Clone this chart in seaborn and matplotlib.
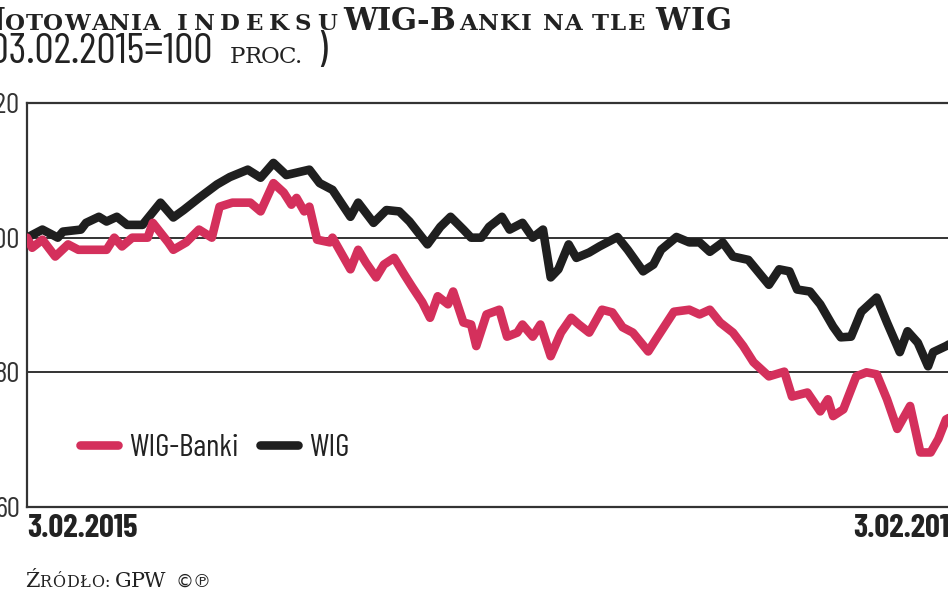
import matplotlib
matplotlib.use("Agg")
import matplotlib.pyplot as plt
from matplotlib.lines import Line2D
import seaborn as sns
import pandas as pd

# dni od 3.02.2015 i wartosci (3.02.2015 = 100)
start = pd.Timestamp("2015-02-03")
end = pd.Timestamp("2016-02-03")

wig_days = [0, 6, 12, 14, 21, 23, 28, 31, 35, 39, 45, 52, 57, 61, 67, 74, 79, 86, 91, 96,
            101, 110, 114, 119, 126, 129, 135, 140, 145, 149, 156, 161, 165, 170, 173, 177, 180, 185, 188, 193,
            197, 201, 204, 207, 211, 214, 219, 223, 230, 234, 240, 244, 247, 253, 258, 262, 266, 271, 275, 281,
            289, 293, 297, 300, 305, 309, 314, 317, 321, 325, 331, 335, 340, 343, 347, 351, 353, 358, 363]
wig_vals = [100.0, 101.2, 100.0, 100.9, 101.2, 102.2, 103.1, 102.4, 103.1, 101.9,
            101.9, 105.2, 103.0, 104.1, 105.9, 107.9, 109.0, 110.1, 108.9, 111.1,
            109.3, 110.1, 108.1, 107.1, 103.1, 105.2, 102.2, 104.1, 103.9, 102.4,
            99.0, 101.6, 103.1, 101.2, 100.0, 100.0, 101.6, 103.1, 101.2, 102.2,
            100.0, 101.2, 94.1, 95.3, 99.0, 97.0, 97.8, 98.7, 100.1, 98.2,
            95.0, 96.0, 98.2, 100.1, 99.3, 99.3, 97.9, 99.3, 97.2, 96.7,
            93.0, 95.3, 95.0, 92.3, 92.0, 90.1, 86.8, 85.2, 85.3, 89.0,
            91.1, 87.4, 83.0, 86.1, 84.4, 80.9, 83.0, 83.9, 85.0]

banki_days = [0, 2, 6, 11, 16, 20, 31, 34, 37, 41, 47, 49, 55, 57, 62, 67, 72, 75, 80, 87,
              91, 96, 100, 103, 105, 108, 110, 113, 118, 119, 126, 129, 132, 136, 139, 143, 147, 150, 154, 157,
              160, 164, 166, 170, 173, 175, 179, 184, 187, 191, 193, 197, 200, 204, 208, 212, 215, 219, 224, 228,
              232, 236, 242, 245, 252, 258, 262, 266, 270, 275, 279, 283, 289, 295, 298, 304, 309, 312, 314, 318,
              323, 327, 331, 335, 339, 344, 348, 352, 355, 358, 363]
banki_vals = [100.0, 98.5, 99.7, 97.2, 99.0, 98.2, 98.2, 100.0, 98.7, 100.0,
              100.0, 102.2, 99.3, 98.2, 99.3, 101.2, 100.0, 104.6, 105.2, 105.2,
              103.9, 108.1, 106.7, 104.9, 105.9, 103.9, 104.6, 99.7, 99.3, 100.0,
              95.3, 98.2, 96.3, 94.1, 96.0, 97.0, 94.5, 92.7, 90.4, 88.1,
              91.3, 90.1, 92.0, 87.4, 87.1, 83.9, 88.6, 89.3, 85.3, 85.9,
              87.1, 85.3, 87.1, 82.4, 85.9, 88.1, 87.1, 85.9, 89.3, 88.9,
              86.7, 85.9, 83.1, 84.9, 89.0, 89.3, 88.6, 89.3, 87.4, 85.9,
              83.9, 81.5, 79.4, 80.1, 76.4, 77.0, 74.2, 76.0, 73.5, 74.5,
              79.4, 80.0, 79.7, 76.0, 71.6, 75.0, 68.1, 68.1, 70.1, 73.0, 74.0]

series_names = ["WIG", "WIG-Banki"]
y_ticks = [60, 80, 100, 120]
grid_levels = [80, 100]
x_labels = ["3.02.2015", "3.02.2016"]

RED = "#d4305c"
BLACK = "#1f1f1f"
INK = "#222222"
W, H = 948, 593

df = pd.concat([
    pd.DataFrame({"Data": start + pd.to_timedelta(wig_days, unit="D"), "Wartosc": wig_vals, "Indeks": "WIG"}),
    pd.DataFrame({"Data": start + pd.to_timedelta(banki_days, unit="D"), "Wartosc": banki_vals, "Indeks": "WIG-Banki"}),
])

narrow = ["Barlow Condensed", "DejaVu Sans"]
serif = ["DejaVu Serif", "DejaVu Sans"]

sns.set_style("white")
plt.rcParams["font.family"] = narrow

fig = plt.figure(figsize=(W / 100, H / 100), dpi=100)
ax = fig.add_axes([27 / W, 1 - 507 / H, 937 / W, 404 / H])

sns.lineplot(data=df, x="Data", y="Wartosc", hue="Indeks", hue_order=series_names,
             palette={"WIG": BLACK, "WIG-Banki": RED}, linewidth=6.2,
             solid_capstyle="round", solid_joinstyle="round", legend=False, ax=ax, zorder=3)

for lvl in grid_levels:
    ax.axhline(lvl, color="#333333", lw=1.4, zorder=1)

ax.set_xlim(start, end)
ax.set_ylim(60, 120)
for side in ["left", "bottom", "top"]:
    ax.spines[side].set_color("#333333")
    ax.spines[side].set_linewidth(1.6)
ax.spines["right"].set_visible(False)

ax.set_yticks(y_ticks)
ax.set_yticklabels([str(v) for v in y_ticks])
ax.tick_params(axis="y", length=0, pad=5, labelsize=21, labelcolor="#333333")
ax.set_xticks([start, end])
ax.set_xticklabels(x_labels, fontweight="bold")
ax.tick_params(axis="x", length=0, pad=5, labelsize=23.5, labelcolor=INK)
lbls = ax.get_xticklabels()
lbls[0].set_ha("left")
lbls[1].set_ha("right")
ax.set_xlabel("")
ax.set_ylabel("")

handles = [Line2D([], [], color=RED, lw=6.2, solid_capstyle="round"),
           Line2D([], [], color=BLACK, lw=6.2, solid_capstyle="round")]
ax.legend(handles, ["WIG-Banki", "WIG"], loc="center left", bbox_to_anchor=(0.057, 0.146),
          ncol=2, frameon=False, fontsize=22.5, handlelength=1.2, handletextpad=0.35,
          columnspacing=0.7, borderpad=0, borderaxespad=0, labelcolor=INK)

renderer = fig.canvas.get_renderer()


def draw_word(text, x0, x1, y, size, family, weight="normal"):
    # rozstawia znaki tak, zeby slowo zajelo odcinek x0..x1 (piksele)
    arts, widths = [], []
    for ch in text:
        t = fig.text(0, 0, ch, fontsize=size, family=family, weight=weight,
                     ha="left", va="baseline", color=INK)
        arts.append(t)
        widths.append(t.get_window_extent(renderer).width)
    gap = (x1 - x0 - sum(widths)) / max(len(text) - 1, 1)
    x = x0
    for t, w in zip(arts, widths):
        t.set_position((x / W, 1 - y / H))
        x += w + gap


big, small = 22, 16.5

# tytul (kapitaliki)
draw_word("N", -22, 3, 30, big, serif, "bold")
draw_word("OTOWANIA", 5, 160, 30, small, serif, "bold")
draw_word("INDEKSU", 177, 337, 30, small, serif, "bold")
draw_word("WIG-B", 343, 455, 30, big, serif, "bold")
draw_word("ANKI", 459, 532, 30, small, serif, "bold")
draw_word("NA", 543, 582, 30, small, serif, "bold")
draw_word("TLE", 592, 645, 30, small, serif, "bold")
draw_word("WIG", 655, 732, 30, big, serif, "bold")

# podtytul
fig.text(213 / W, 1 - 63 / H, "(03.02.2015=100", fontsize=31, family=narrow,
         ha="right", va="baseline", color=INK)
draw_word("PROC.", 230, 302, 63, 16.5, serif)
fig.text(317 / W, 1 - 63 / H, ")", fontsize=31, family=narrow,
         ha="left", va="baseline", color=INK)

# zrodlo
draw_word("Ź", 25, 37, 587, 15, serif)
draw_word("RÓDŁO:", 39, 110, 587, 11.5, serif)
draw_word("GPW", 115, 165, 587, 15, serif)
fig.text(176 / W, 1 - 587 / H, "©℗", fontsize=13, family=["DejaVu Sans"],
         ha="left", va="baseline", color=INK)

fig.savefig("out.png", dpi=100)
